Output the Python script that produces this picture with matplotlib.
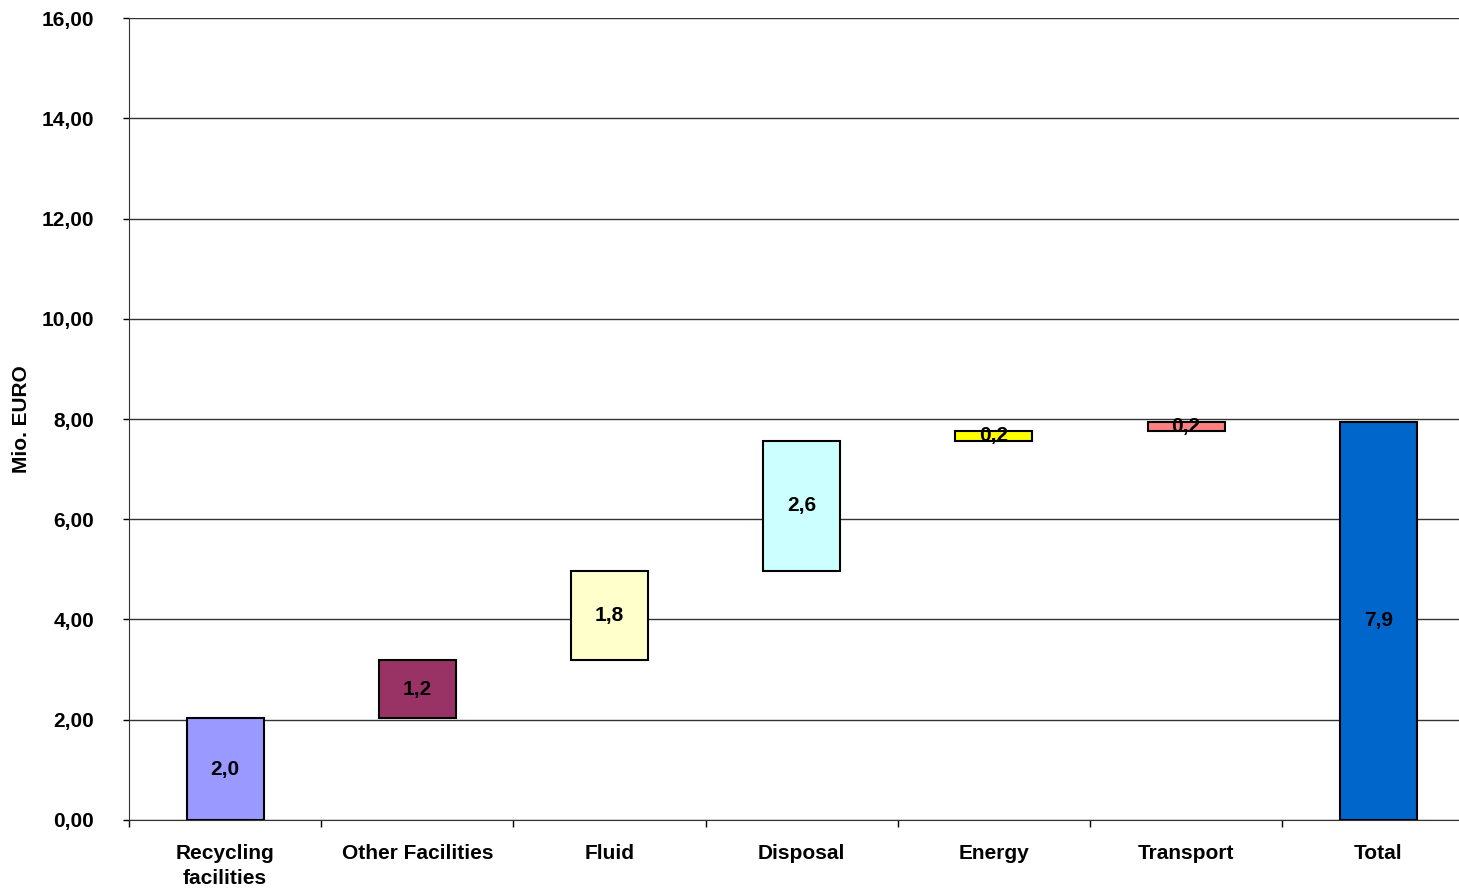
import numpy as np
import matplotlib.pyplot as plt
from matplotlib.ticker import FuncFormatter

plt.rcParams['font.family'] = ['Liberation Sans', 'DejaVu Sans']
plt.rcParams['font.weight'] = 'bold'

categories = ['Recycling\nfacilities', 'Other Facilities', 'Fluid', 'Disposal',
              'Energy', 'Transport', 'Total']
steps = [2.03, 1.16, 1.77, 2.61, 0.20, 0.17]
colors = ['#9999ff', '#993366', '#ffffcc', '#ccffff', '#ffff00', '#ff8080', '#0066cc']

# waterfall: each step starts where the previous one ended, total from zero
total = sum(steps)
heights = steps + [total]
bottoms = list(np.concatenate([[0], np.cumsum(steps)[:-1]])) + [0]

fig = plt.figure(figsize=(14.59, 8.88), dpi=100)
ax = fig.add_axes([0.0884, 0.0766, 0.9116, 0.9031])

x = np.arange(len(categories))
ax.bar(x, heights, bottom=bottoms, width=0.4, color=colors,
       edgecolor='black', linewidth=1.5, zorder=3)

for xi, h, b in zip(x, heights, bottoms):
    ax.text(xi, b + h / 2, f'{h:.1f}'.replace('.', ','), ha='center', va='center',
            fontsize=15, fontweight='bold', zorder=4)

ax.set_ylim(0, 16)
ax.set_xlim(-0.5, 6.42)
ax.set_yticks(np.arange(0, 17, 2))
ax.yaxis.set_major_formatter(FuncFormatter(lambda v, p: f'{v:.2f}'.replace('.', ',')))
ax.grid(axis='y', color='#333333', linewidth=1, zorder=0)

ax.set_xticks(x)
ax.set_xticklabels(categories, fontsize=15, fontweight='bold', linespacing=1.45)
ax.set_xticks(np.arange(-0.5, 6.5, 1), minor=True)
ax.tick_params(axis='x', which='major', length=0, pad=17)
ax.tick_params(axis='x', which='minor', length=5, width=1, direction='out')
ax.tick_params(axis='y', length=4, width=1, direction='out', labelsize=15, pad=21)
for lbl in ax.get_yticklabels():
    lbl.set_horizontalalignment('right')
    lbl.set_fontweight('bold')

ax.spines['top'].set_visible(False)
ax.spines['right'].set_visible(False)
ax.spines['left'].set_color('#333333')
ax.spines['bottom'].set_color('#333333')

fig.text(22 / 1459, 1 - 419 / 888, 'Mio. EURO', rotation=90, ha='center', va='center',
         fontsize=15, fontweight='bold')

fig.savefig('out.png', dpi=100)
